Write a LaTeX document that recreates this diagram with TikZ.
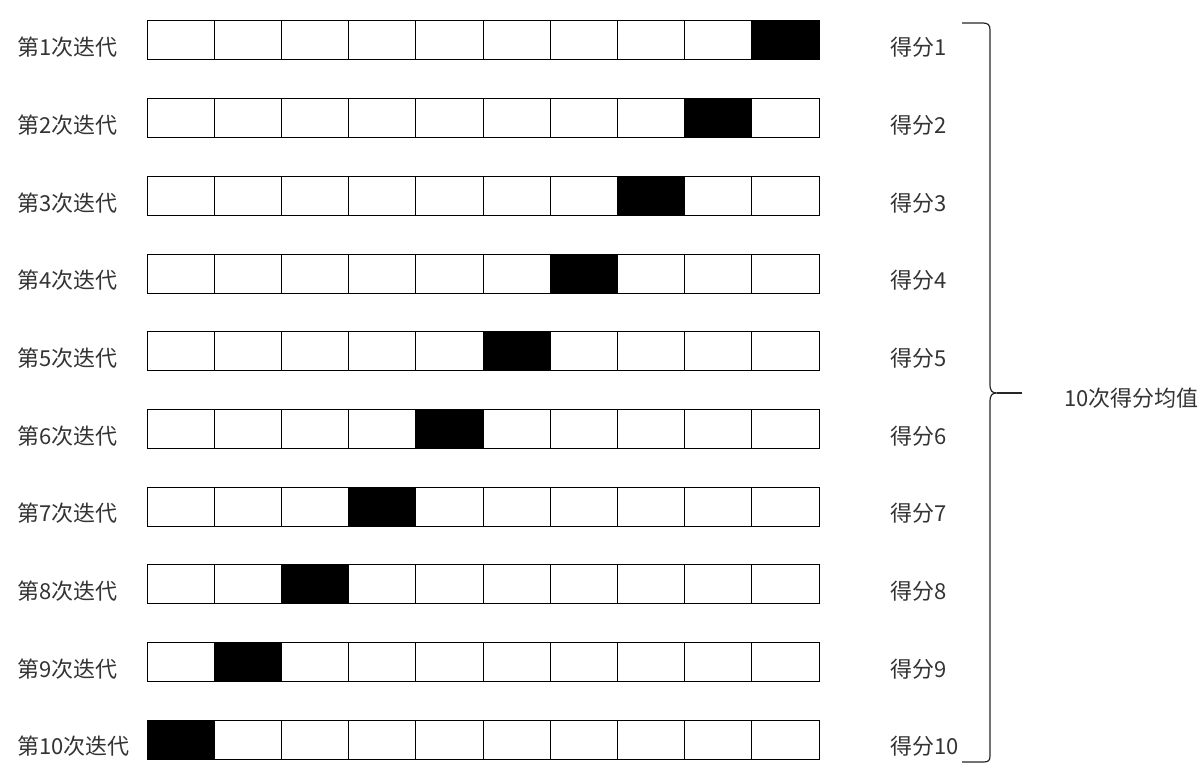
\documentclass[tikz,border=0pt]{standalone}
\usepackage{fontspec}
\setmainfont{Noto Sans CJK SC}
\usepackage{tikz}

\tikzset{
  cell/.style={draw=black, line width=1pt, minimum width=67.2pt, minimum height=39pt, inner sep=0pt, fill=white},
  hit/.style={cell, fill=black},
  rowlabel/.style={anchor=west, inner sep=0pt, text=black!80, font=\fontsize{22pt}{24pt}\selectfont},
}

\begin{document}
\begin{tikzpicture}[x=1pt, y=-1pt]
    \useasboundingbox (0,0) rectangle (1204,773);
    \foreach \i in {1,...,10} {
      \pgfmathsetmacro{\yy}{40.5+(\i-1)*77.67}
      \pgfmathtruncatemacro{\k}{11-\i}
      \node[rowlabel] (lab\i) at (17,\yy+7) {第\i 次迭代};
      \foreach \j in {1,...,10} {
        \ifnum\j=\k
          \node[hit] (c\i-\j) at ({147+(\j-0.5)*67.2},\yy) {};
        \else
          \node[cell] (c\i-\j) at ({147+(\j-0.5)*67.2},\yy) {};
        \fi
      }
      \node[rowlabel] (score\i) at (890,\yy+7) {得分\i};
    }
    % brace
    \draw[line width=1.2pt, black!85]
    (962,23) -- (983,23) .. controls (988,23) and (990,25) .. (990,30)
      -- (990,384) .. controls (990,391) and (992,393) .. (997,393)
      .. controls (992,393) and (990,395) .. (990,402)
      -- (990,756) .. controls (990,761) and (988,762) .. (983,762) -- (962,762);
    \coordinate (tip) at (997,393);
    \draw[line width=1.2pt, black!85] (tip) -- ++(25,0);
    \node[rowlabel] (mean) at (1064,398) {10次得分均值};
  \end{tikzpicture}
\end{document}
